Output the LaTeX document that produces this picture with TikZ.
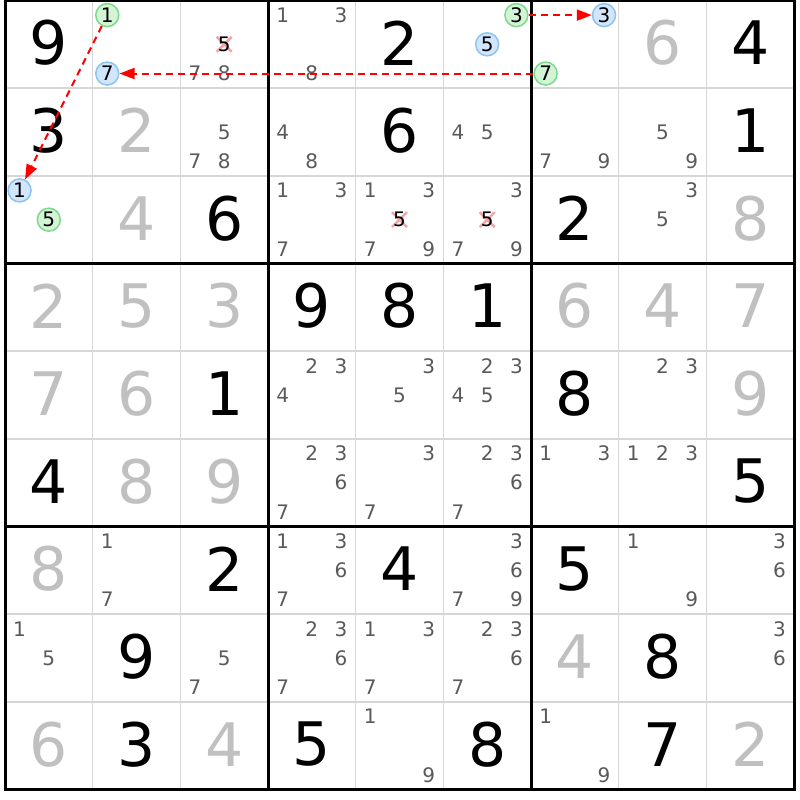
\documentclass[tikz,border=0pt]{standalone}
\usepackage{fontspec}
\setmainfont{DejaVu Sans}
\usetikzlibrary{arrows.meta}
\definecolor{solvedgray}{HTML}{C0C0C0}
\definecolor{candgray}{HTML}{5A5A5A}
\definecolor{thingrid}{HTML}{D6D6D6}
\definecolor{gfill}{HTML}{D4F4D6}
\definecolor{gline}{HTML}{7ED98E}
\definecolor{bfill}{HTML}{D2E6FB}
\definecolor{bline}{HTML}{8CC3F2}
\definecolor{crosspink}{HTML}{F4A6A6}
\definecolor{arrowred}{HTML}{FF0000}
\tikzset{
  given/.style={inner sep=0pt,text=black,font=\fontsize{60}{60}\selectfont},
  solved/.style={inner sep=0pt,text=solvedgray,font=\fontsize{60}{60}\selectfont},
  cand/.style={inner sep=0pt,text=candgray,font=\fontsize{20}{20}\selectfont},
  candblack/.style={inner sep=0pt,text=black,font=\fontsize{20}{20}\selectfont},
  greencirc/.style={circle,draw=gline,fill=gfill,line width=1.5pt,minimum size=23pt,inner sep=0pt,text=black,font=\fontsize{20}{20}\selectfont},
  bluecirc/.style={circle,draw=bline,fill=bfill,line width=1.5pt,minimum size=23pt,inner sep=0pt,text=black,font=\fontsize{20}{20}\selectfont},
  chainarrow/.style={draw=arrowred,line width=2pt,dash pattern=on 7pt off 5pt,-{Triangle[length=15pt,width=11pt,fill=arrowred]}},
  crossline/.style={draw=crosspink,line width=2.5pt},
  thinline/.style={draw=thingrid,line width=1.6pt},
  thickline/.style={draw=black,line width=3pt}
}
\newcommand\cw{87.67}
\newcommand\bigd[4]{\node[#4] (d#1#2) at ({5+(#2-0.5)*\cw},{0.5+(#1-0.5)*\cw-1.3}) {#3};}
\newcommand\cands[3]{\foreach \dd in {#3}{%
  \pgfmathtruncatemacro\kk{mod(\dd-1,3)}%
  \pgfmathtruncatemacro\mm{int((\dd-1)/3)}%
  \node[cand] (c#1#2\dd) at ({5+(#2-1)*\cw+14.6+\kk*29.22},{0.5+(#1-1)*\cw+14.6+\mm*29.22}) {\dd};}}
\newcommand\circd[4]{%
  \pgfmathtruncatemacro\kk{mod(#3-1,3)}%
  \pgfmathtruncatemacro\mm{int((#3-1)/3)}%
  \node[#4] (o#1#2#3) at ({5+(#2-1)*\cw+14.6+\kk*29.22},{0.5+(#1-1)*\cw+14.6+\mm*29.22}) {#3};}
\newcommand\crossd[3]{%
  \pgfmathtruncatemacro\kk{mod(#3-1,3)}%
  \pgfmathtruncatemacro\mm{int((#3-1)/3)}%
  \coordinate (x#1#2#3) at ({5+(#2-1)*\cw+14.6+\kk*29.22},{0.5+(#1-1)*\cw+14.6+\mm*29.22});
  \draw[crossline] ([shift={(-7.5,-7.5)}]x#1#2#3) -- ([shift={(7.5,7.5)}]x#1#2#3);
  \draw[crossline] ([shift={(-7.5,7.5)}]x#1#2#3) -- ([shift={(7.5,-7.5)}]x#1#2#3);
  \node[candblack] (c#1#2#3) at (x#1#2#3) {#3};}
\begin{document}
\begin{tikzpicture}[x=1pt,y=-1pt]
\useasboundingbox[fill=white] (0,0) rectangle (800,800);
% thin grid
\foreach \i in {1,2,4,5,7,8}{
  \draw[thinline] ({5+\i*\cw},0.5) -- ({5+\i*\cw},{0.5+9*\cw});
  \draw[thinline] (5,{0.5+\i*\cw}) -- ({5+9*\cw},{0.5+\i*\cw});
}
% thick grid
\foreach \i in {0,3,6,9}{
  \draw[thickline] ({5+\i*\cw},-1) -- ({5+\i*\cw},{2+9*\cw});
  \draw[thickline] (3.5,{0.5+\i*\cw}) -- ({6.5+9*\cw},{0.5+\i*\cw});
}
% givens
\bigd{1}{1}{9}{given} \bigd{1}{5}{2}{given} \bigd{1}{9}{4}{given}
\bigd{2}{1}{3}{given} \bigd{2}{5}{6}{given} \bigd{2}{9}{1}{given}
\bigd{3}{3}{6}{given} \bigd{3}{7}{2}{given}
\bigd{4}{4}{9}{given} \bigd{4}{5}{8}{given} \bigd{4}{6}{1}{given}
\bigd{5}{3}{1}{given} \bigd{5}{7}{8}{given}
\bigd{6}{1}{4}{given} \bigd{6}{9}{5}{given}
\bigd{7}{3}{2}{given} \bigd{7}{5}{4}{given} \bigd{7}{7}{5}{given}
\bigd{8}{2}{9}{given} \bigd{8}{8}{8}{given}
\bigd{9}{2}{3}{given} \bigd{9}{4}{5}{given} \bigd{9}{6}{8}{given} \bigd{9}{8}{7}{given}
% solved
\bigd{1}{8}{6}{solved}
\bigd{2}{2}{2}{solved}
\bigd{3}{2}{4}{solved} \bigd{3}{9}{8}{solved}
\bigd{4}{1}{2}{solved} \bigd{4}{2}{5}{solved} \bigd{4}{3}{3}{solved}
\bigd{4}{7}{6}{solved} \bigd{4}{8}{4}{solved} \bigd{4}{9}{7}{solved}
\bigd{5}{1}{7}{solved} \bigd{5}{2}{6}{solved} \bigd{5}{9}{9}{solved}
\bigd{6}{2}{8}{solved} \bigd{6}{3}{9}{solved}
\bigd{7}{1}{8}{solved}
\bigd{8}{7}{4}{solved}
\bigd{9}{1}{6}{solved} \bigd{9}{3}{4}{solved} \bigd{9}{9}{2}{solved}
% candidates
\cands{1}{3}{7,8} \cands{1}{4}{1,3,8}
\cands{2}{3}{5,7,8} \cands{2}{4}{4,8} \cands{2}{6}{4,5} \cands{2}{7}{7,9} \cands{2}{8}{5,9}
\cands{3}{4}{1,3,7} \cands{3}{5}{1,3,7,9} \cands{3}{6}{3,7,9} \cands{3}{8}{3,5}
\cands{5}{4}{2,3,4} \cands{5}{5}{3,5} \cands{5}{6}{2,3,4,5} \cands{5}{8}{2,3}
\cands{6}{4}{2,3,6,7} \cands{6}{5}{3,7} \cands{6}{6}{2,3,6,7} \cands{6}{7}{1,3} \cands{6}{8}{1,2,3}
\cands{7}{2}{1,7} \cands{7}{4}{1,3,6,7} \cands{7}{6}{3,6,7,9} \cands{7}{8}{1,9} \cands{7}{9}{3,6}
\cands{8}{1}{1,5} \cands{8}{3}{5,7} \cands{8}{4}{2,3,6,7} \cands{8}{5}{1,3,7} \cands{8}{6}{2,3,6,7} \cands{8}{9}{3,6}
\cands{9}{5}{1,9} \cands{9}{7}{1,9}
% eliminated candidates
\crossd{1}{3}{5} \crossd{3}{5}{5} \crossd{3}{6}{5}
% circled candidates
\circd{1}{2}{1}{greencirc} \circd{1}{2}{7}{bluecirc}
\circd{1}{6}{3}{greencirc} \circd{1}{6}{5}{bluecirc}
\circd{1}{7}{3}{bluecirc} \circd{1}{7}{7}{greencirc}
\circd{3}{1}{1}{bluecirc} \circd{3}{1}{5}{greencirc}
% chain arrows
\draw[chainarrow] (o121) -- (o311);
\draw[chainarrow] (o177) -- (o127);
\draw[chainarrow] (o163) -- (o173);
\end{tikzpicture}
\end{document}
